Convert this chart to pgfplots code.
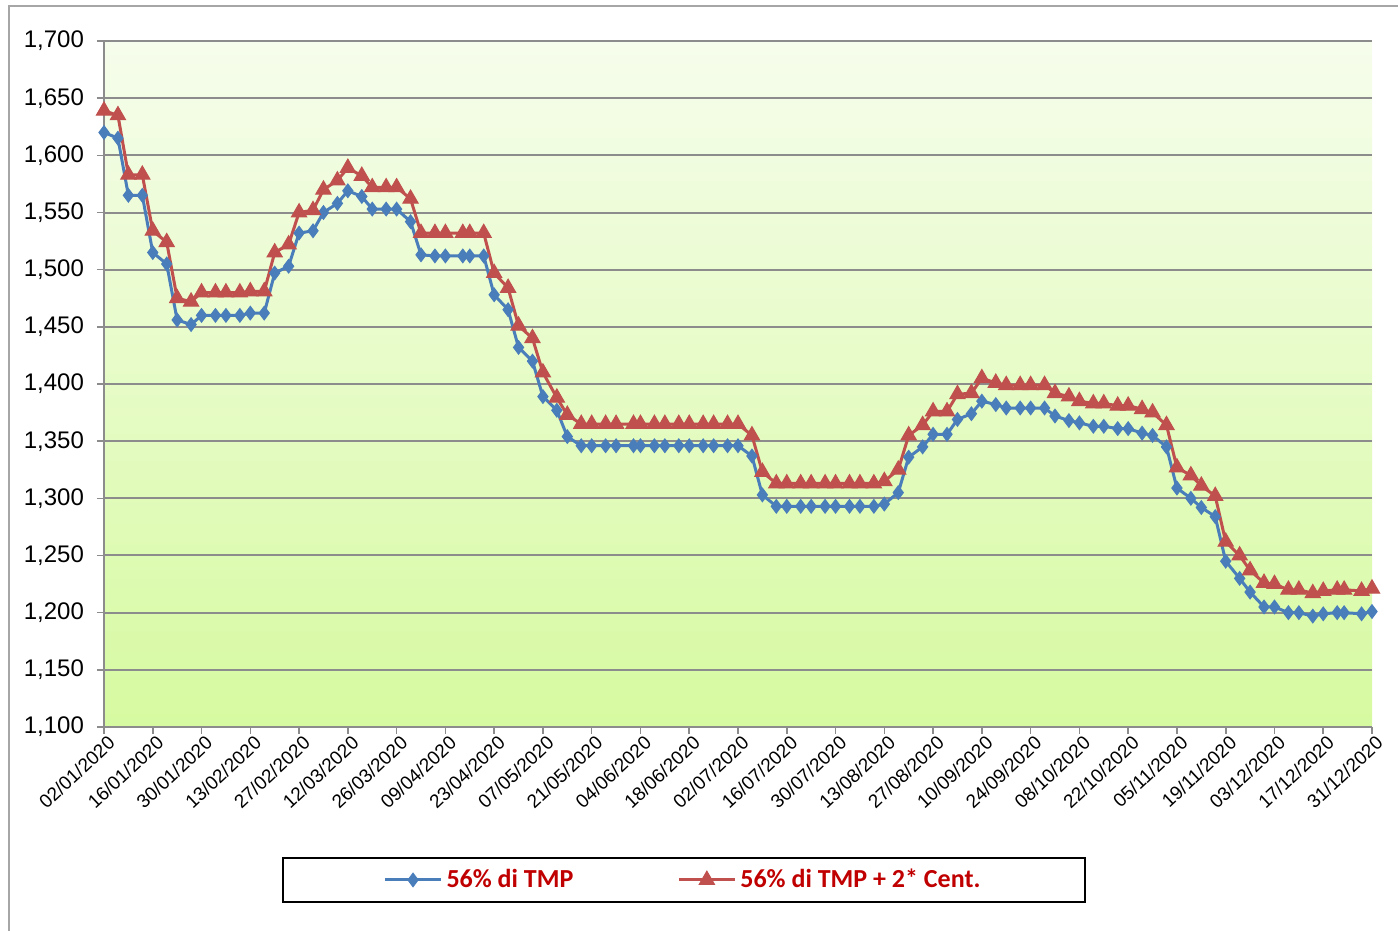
\documentclass[border=0pt]{standalone}
\usepackage{fontspec}
\setmainfont{Liberation Sans}
\newfontfamily\legfont{Carlito}
\usepackage{pgfplots}
\pgfplotsset{compat=1.18}
\usepackage{pgfplotstable}
\definecolor{sblue}{RGB}{74,126,187}
\definecolor{sred}{RGB}{192,80,77}
\definecolor{legred}{RGB}{192,0,0}
\definecolor{bgtop}{RGB}{246,253,236}
\definecolor{bgbot}{RGB}{214,250,160}
\definecolor{gridc}{RGB}{140,140,140}

\pgfplotstableread{
d b r
0 1.620 1.639
4 1.615 1.635
7 1.565 1.583
11 1.565 1.583
14 1.515 1.534
18 1.505 1.524
21 1.456 1.475
25 1.452 1.472
28 1.460 1.480
32 1.460 1.480
35 1.460 1.480
39 1.460 1.480
42 1.462 1.481
46 1.462 1.481
49 1.497 1.515
53 1.503 1.522
56 1.532 1.550
60 1.534 1.552
63 1.550 1.570
67 1.558 1.578
70 1.569 1.589
74 1.564 1.582
77 1.553 1.572
81 1.553 1.572
84 1.553 1.572
88 1.542 1.562
91 1.513 1.532
95 1.512 1.532
98 1.512 1.532
103 1.512 1.532
105 1.512 1.532
109 1.512 1.532
112 1.478 1.497
116 1.465 1.484
119 1.432 1.451
123 1.420 1.440
126 1.389 1.410
130 1.377 1.388
133 1.354 1.373
137 1.346 1.365
140 1.346 1.365
144 1.346 1.365
147 1.346 1.365
152 1.346 1.365
154 1.346 1.365
158 1.346 1.365
161 1.346 1.365
165 1.346 1.365
168 1.346 1.365
172 1.346 1.365
175 1.346 1.365
179 1.346 1.365
182 1.346 1.365
186 1.337 1.355
189 1.303 1.323
193 1.293 1.313
196 1.293 1.313
200 1.293 1.313
203 1.293 1.313
207 1.293 1.313
210 1.293 1.313
214 1.293 1.313
217 1.293 1.313
221 1.293 1.313
224 1.295 1.315
228 1.305 1.325
231 1.336 1.355
235 1.345 1.364
238 1.356 1.376
242 1.356 1.376
245 1.369 1.391
249 1.374 1.392
252 1.385 1.405
256 1.382 1.401
259 1.379 1.399
263 1.379 1.399
266 1.379 1.399
270 1.379 1.399
273 1.372 1.392
277 1.368 1.389
280 1.366 1.385
284 1.363 1.383
287 1.363 1.383
291 1.361 1.381
294 1.361 1.381
298 1.357 1.378
301 1.355 1.375
305 1.345 1.364
308 1.309 1.327
312 1.300 1.320
315 1.292 1.311
319 1.284 1.302
322 1.245 1.262
326 1.230 1.250
329 1.218 1.237
333 1.205 1.226
336 1.205 1.225
340 1.200 1.220
343 1.200 1.220
347 1.197 1.217
350 1.199 1.219
354 1.200 1.220
356 1.200 1.220
361 1.199 1.219
364 1.201 1.221
}\datatable

\begin{document}
\begin{tikzpicture}
\useasboundingbox (0,0) rectangle (699pt,465.5pt);
\draw[gray!70, line width=0.6pt] (4.5pt,0) -- (4.5pt,462.5pt) -- (699pt,462.5pt);
\begin{axis}[
  at={(52pt,102pt)}, anchor=south west,
  scale only axis, width=634pt, height=343pt,
  xmin=0, xmax=364, ymin=1.1, ymax=1.7,
  axis background/.style={shade, top color=bgtop, bottom color=bgbot},
  axis x line*=bottom, axis y line*=left,
  axis line style={gridc, line width=0.8pt, -},
  tick align=outside, major tick length=3.5pt,
  tick style={gridc, line width=0.8pt},
  xtick={0,14,...,364},
  xticklabels={02/01/2020,16/01/2020,30/01/2020,13/02/2020,27/02/2020,12/03/2020,26/03/2020,09/04/2020,23/04/2020,07/05/2020,21/05/2020,04/06/2020,18/06/2020,02/07/2020,16/07/2020,30/07/2020,13/08/2020,27/08/2020,10/09/2020,24/09/2020,08/10/2020,22/10/2020,05/11/2020,19/11/2020,03/12/2020,17/12/2020,31/12/2020},
  xticklabel style={rotate=43, anchor=north east, font=\fontsize{9.5}{11}\selectfont, inner sep=1pt, xshift=2pt},
  ytick={1.1,1.15,...,1.71},
  yticklabel style={font=\fontsize{12}{14}\selectfont, xshift=-3pt, /pgf/number format/.cd, fixed, fixed zerofill, precision=3, use comma, assume math mode=true},
  scaled y ticks=false,
  ymajorgrids, grid style={gridc, line width=1pt},
  legend style={at={(0.4574,-0.223)}, anchor=center, draw=none, fill=none,
    legend columns=2, font=\legfont\bfseries\fontsize{13}{15}\selectfont\color{legred},
    /tikz/every even column/.append style={column sep=50pt}},
  legend image code/.code={\draw[mark repeat=2,mark phase=2] plot coordinates {(0pt,0pt)(14pt,0pt)(28pt,0pt)};},
]
\addplot[sblue, line width=1.5pt, mark=diamond*, mark size=3.4pt, mark options={solid, fill=sblue, draw=sblue, line width=0.5pt}] table[x=d, y=b] {\datatable};
\addlegendentry{56\% di TMP}
\addplot[sred, line width=1.5pt, mark=triangle*, mark size=4.4pt, mark options={solid, fill=sred, draw=sred, line width=0.5pt}] table[x=d, y=r] {\datatable};
\addlegendentry{56\% di TMP + 2* Cent.}
\end{axis}
\draw[black, line width=1pt] (141.5pt,14.5pt) rectangle (542.5pt,36.5pt);
\end{tikzpicture}
\end{document}
